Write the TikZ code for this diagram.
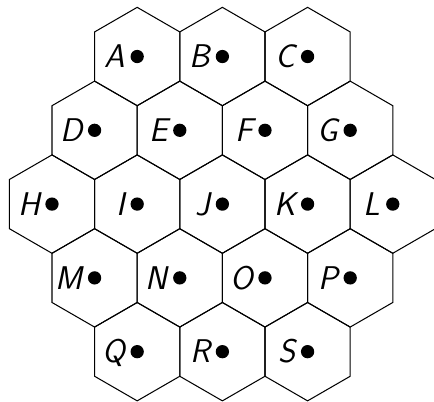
\documentclass[tikz,border=0pt]{standalone}
\usepackage{tikz}
\usetikzlibrary{positioning}

\begin{document}
\begin{tikzpicture}[x=1cm,y=1cm,
  cell/.style={draw=black,line width=0.6pt,line join=miter},
  pip/.style={circle,fill=black,inner sep=0pt,minimum size=0.27cm},
  tag/.style={anchor=base east,inner sep=0pt,font=\sffamily\itshape\fontsize{19}{19}\selectfont}]
\useasboundingbox (-4.521,-4.006) rectangle (4.302,4.149);
\clip (-4.521,-4.006) rectangle (4.302,4.149);
\foreach \n/\c/\r in {A/-1/2,B/0/2,C/1/2,D/-1.5/1,E/-0.5/1,F/0.5/1,G/1.5/1,H/-2/0,I/-1/0,J/0/0,K/1/0,L/2/0,M/-1.5/-1,N/-0.5/-1,O/0.5/-1,P/1.5/-1,Q/-1/-2,R/0/-2,S/1/-2} {
  \coordinate (\n) at ({\c*sqrt(3)},{1.5*\r});
  \draw[cell] (\n) +(30:1) -- +(90:1) -- +(150:1) -- +(210:1) -- +(270:1) -- +(330:1) -- cycle;
  \node[pip] (\n dot) at (\n) {};
  \node[tag] (\n tag) at ([xshift=-0.24cm,yshift=-0.23cm]\n) {\n};
}
\end{tikzpicture}
\end{document}
